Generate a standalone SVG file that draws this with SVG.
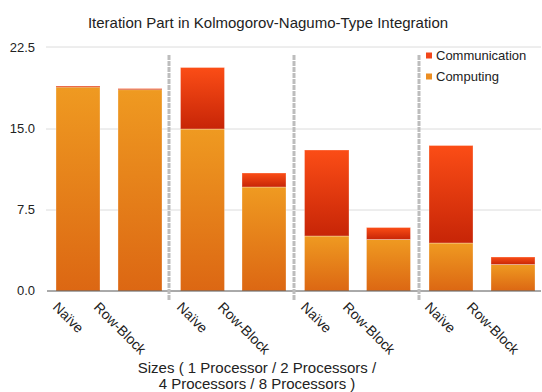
<svg xmlns="http://www.w3.org/2000/svg" width="542" height="392" viewBox="0 0 542 392">
<style>
text{font-family:"Liberation Sans",Arial,sans-serif;fill:#222}
.title{font-size:15px}
.tick{font-size:13px;text-anchor:end}
.xl{font-size:14px}
.leg{font-size:13px}
.grid{stroke:#dcdcdc;stroke-width:1}
.axis{stroke:#555;stroke-width:1}
.div{stroke:#bdbdbd;stroke-width:3;stroke-dasharray:5 1}
.comm{fill:url(#gComm);stroke:#fff;stroke-opacity:0.3;stroke-width:1}
.comp{fill:url(#gComp);stroke:#fff;stroke-opacity:0.3;stroke-width:1}
</style>
<defs>
<linearGradient id="gComp" x1="0" y1="0" x2="0" y2="1">
<stop offset="0" stop-color="#EF9A21"/>
<stop offset="1" stop-color="#DC6713"/>
</linearGradient>
<linearGradient id="gComm" x1="0" y1="0" x2="0" y2="1">
<stop offset="0" stop-color="#FB4D16"/>
<stop offset="1" stop-color="#C72507"/>
</linearGradient>
</defs>
<rect width="542" height="392" fill="#fff"/>
<text class="title" x="268" y="28" text-anchor="middle">Iteration Part in Kolmogorov-Nagumo-Type Integration</text>
<g id="grid">
<line class="grid" x1="46" y1="47" x2="541" y2="47"/>
<line class="grid" x1="46" y1="129" x2="541" y2="129"/>
<line class="grid" x1="46" y1="210" x2="541" y2="210"/>
</g>
<g id="yticks">
<text class="tick" x="35" y="52">22.5</text>
<text class="tick" x="35" y="133">15.0</text>
<text class="tick" x="35" y="214">7.5</text>
<text class="tick" x="35" y="295">0.0</text>
</g>
<g id="bars">
<g id="bar1"><rect class="comp" x="56" y="87" width="44" height="204"/><rect class="comm" x="56" y="86" width="44" height="1.2"/></g>
<g id="bar2"><rect class="comp" x="118" y="89.5" width="44" height="201.5"/><rect class="comm" x="118" y="88.5" width="44" height="1.2"/></g>
<g id="bar3"><rect class="comp" x="180.5" y="129" width="44" height="162"/><rect class="comm" x="180.5" y="67.5" width="44" height="61.5"/></g>
<g id="bar4"><rect class="comp" x="242" y="187" width="44" height="104"/><rect class="comm" x="242" y="173" width="44" height="14"/></g>
<g id="bar5"><rect class="comp" x="304.5" y="236" width="44.5" height="55"/><rect class="comm" x="304.5" y="150" width="44.5" height="86"/></g>
<g id="bar6"><rect class="comp" x="366.5" y="239.5" width="44" height="51.5"/><rect class="comm" x="366.5" y="227.5" width="44" height="12"/></g>
<g id="bar7"><rect class="comp" x="429" y="243" width="44" height="48"/><rect class="comm" x="429" y="145.5" width="44" height="97.5"/></g>
<g id="bar8"><rect class="comp" x="491" y="264.5" width="44" height="26.5"/><rect class="comm" x="491" y="257" width="44" height="7.5"/></g>
</g>
<line class="axis" x1="47" y1="291" x2="541" y2="291"/>
<g id="dividers">
<line class="div" x1="169" y1="55" x2="169" y2="300"/>
<line class="div" x1="294" y1="55" x2="294" y2="300"/>
<line class="div" x1="419" y1="55" x2="419" y2="300"/>
</g>
<g id="xlabels">
<text class="xl" transform="translate(52,308) rotate(45)">Naïve</text>
<text class="xl" transform="translate(93,308) rotate(45)">Row-Block</text>
<text class="xl" transform="translate(176,308) rotate(45)">Naïve</text>
<text class="xl" transform="translate(217,308) rotate(45)">Row-Block</text>
<text class="xl" transform="translate(300,308) rotate(45)">Naïve</text>
<text class="xl" transform="translate(342,308) rotate(45)">Row-Block</text>
<text class="xl" transform="translate(424,308) rotate(45)">Naïve</text>
<text class="xl" transform="translate(466,308) rotate(45)">Row-Block</text>
</g>
<g id="legend">
<rect x="426" y="52.5" width="6" height="6" fill="#F2461A"/>
<text class="leg" x="436" y="60">Communication</text>
<rect x="426" y="73.5" width="6" height="6" fill="#EC8E22"/>
<text class="leg" x="436" y="81">Computing</text>
</g>
<g id="xtitle">
<text class="title" x="257" y="373" text-anchor="middle">Sizes ( 1 Processor / 2 Processors /</text>
<text class="title" x="257" y="389" text-anchor="middle">4 Processors / 8 Processors )</text>
</g>
</svg>
